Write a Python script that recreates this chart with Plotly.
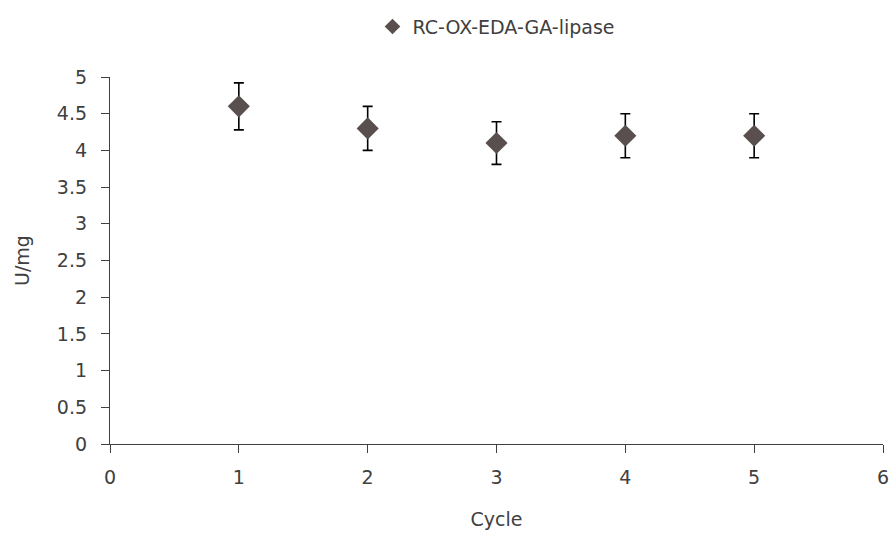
import plotly.graph_objects as go

cycles = [1, 2, 3, 4, 5]
activity = [4.6, 4.3, 4.1, 4.2, 4.2]
errors = [0.32, 0.3, 0.29, 0.3, 0.3]
series_name = "RC-OX-EDA-GA-lipase"

FONT = "DejaVu Sans"
FS = 19
fig = go.Figure()
fig.add_trace(go.Scatter(
    x=cycles, y=activity, mode="markers", name=series_name,
    marker=dict(symbol="diamond", size=17, color="#594f4f"),
    error_y=dict(type="data", array=errors, visible=True, color="#000000",
                 thickness=1.6, width=5),
))
fig.update_layout(
    width=893, height=534,
    paper_bgcolor="white", plot_bgcolor="white",
    margin=dict(l=110, r=10, t=77, b=90, autoexpand=False),
    font=dict(family=FONT, size=FS, color="#404040"),
    showlegend=True,
    legend=dict(orientation="h", x=0.5, xanchor="center", y=0.95, yanchor="middle",
                yref="container", font=dict(size=FS, color="#404040"),
                itemsizing="constant", itemwidth=30),
    xaxis=dict(range=[0, 6], dtick=1, showgrid=False, zeroline=False,
               showline=True, linecolor="#404040", linewidth=1.3,
               ticks="outside", ticklen=8, tickcolor="#404040", automargin=False,
               ticklabelstandoff=8,
               title=dict(text="Cycle", standoff=25, font=dict(size=FS))),
    yaxis=dict(range=[0, 5], dtick=0.5, showgrid=False, zeroline=False,
               showline=True, linecolor="#404040", linewidth=1.3,
               ticks="outside", ticklen=8, tickcolor="#404040", automargin=False,
               ticklabelstandoff=10,
               title=dict(text="U/mg", standoff=22, font=dict(size=FS))),
)
fig.write_html("out.html", config={"displayModeBar": False},
               post_script="document.body.style.margin='0';document.body.style.overflow='hidden';")
